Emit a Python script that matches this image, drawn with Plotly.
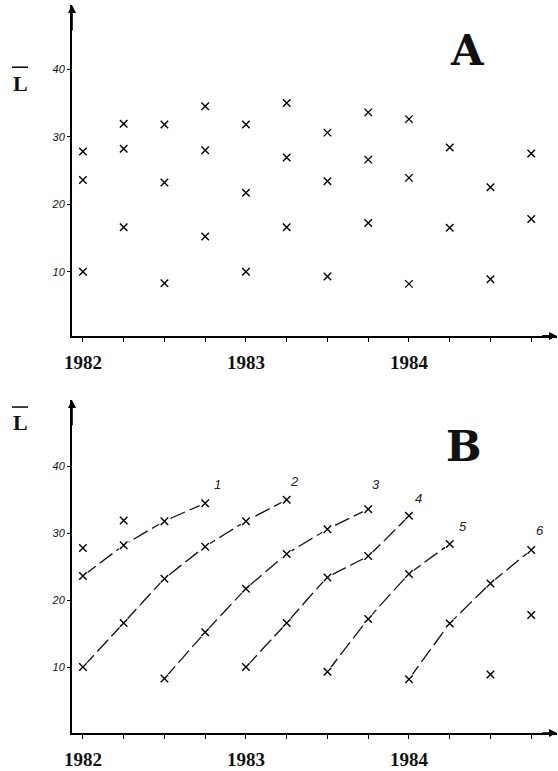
import plotly.graph_objects as go

# ---- data ----
quarters = [1982.0, 1982.25, 1982.5, 1982.75, 1983.0, 1983.25,
            1983.5, 1983.75, 1984.0, 1984.25, 1984.5, 1984.75]
year_ticks = [1982, 1983, 1984]
y_ticks = [10, 20, 30, 40]

c1_t = [1982.0, 1982.25, 1982.5, 1982.75]
c1_L = [23.6, 28.2, 31.8, 34.5]
c2_t = [1982.0, 1982.25, 1982.5, 1982.75, 1983.0, 1983.25]
c2_L = [10.0, 16.6, 23.2, 28.0, 31.8, 35.0]
c3_t = [1982.5, 1982.75, 1983.0, 1983.25, 1983.5, 1983.75]
c3_L = [8.3, 15.2, 21.7, 26.9, 30.6, 33.6]
c4_t = [1983.0, 1983.25, 1983.5, 1983.75, 1984.0]
c4_L = [10.0, 16.6, 23.4, 26.6, 32.6]
c5_t = [1983.5, 1983.75, 1984.0, 1984.25]
c5_L = [9.3, 17.2, 23.9, 28.4]
c6_t = [1984.0, 1984.25, 1984.5, 1984.75]
c6_L = [8.2, 16.5, 22.5, 27.5]
other_t = [1982.0, 1982.25, 1984.5, 1984.75]
other_L = [27.8, 31.9, 8.9, 17.8]

cohort_names = ["1", "2", "3", "4", "5", "6"]
cohorts_t = [c1_t, c2_t, c3_t, c4_t, c5_t, c6_t]
cohorts_L = [c1_L, c2_L, c3_L, c4_L, c5_L, c6_L]

all_t = [t for ts in cohorts_t for t in ts] + other_t
all_L = [v for vs in cohorts_L for v in vs] + other_L

# ---- styling ----
XR = [1981.933, 1984.908]
YR_A = [0.5, 49.5]
YR_B = [0.15, 49.9]
label_shift = [(12, 19), (8, 18), (8, 25), (10, 17), (13, 17), (9, 19)]
PLOT_W = 485.0
PLOT_H = 737.0

mk = dict(symbol="x-thin", size=7.5, color="black", line=dict(width=1.4, color="black"))

fig = go.Figure()

# Panel A: scatter of all observations
fig.add_trace(go.Scatter(x=all_t, y=all_L, mode="markers", marker=mk,
                         xaxis="x", yaxis="y", hoverinfo="skip"))

# Panel B: cohort lines
for ts, vs in zip(cohorts_t, cohorts_L):
    fig.add_trace(go.Scatter(x=ts, y=vs, mode="lines",
                             line=dict(color="#111", width=1.3, dash="16px,5px",
                                       shape="spline", smoothing=0.25),
                             xaxis="x2", yaxis="y2", hoverinfo="skip"))
# white masks giving gaps around markers
fig.add_trace(go.Scatter(x=all_t, y=all_L, mode="markers",
                         marker=dict(symbol="circle", size=12, color="white"),
                         xaxis="x2", yaxis="y2", hoverinfo="skip"))
fig.add_trace(go.Scatter(x=all_t, y=all_L, mode="markers", marker=mk,
                         xaxis="x2", yaxis="y2", hoverinfo="skip"))

tickvals = quarters
ticktext = [str(int(q)) if q in year_ticks else "" for q in quarters]

xcommon = dict(range=XR, showline=True, linecolor="black", linewidth=1.8,
               showgrid=False, zeroline=False, tickvals=tickvals, ticktext=ticktext,
               ticks="outside", ticklen=4, tickwidth=1.3, tickcolor="black",
               ticklabelstandoff=4,
               tickfont=dict(family="Liberation Serif", size=19, color="#111",
                             weight="bold"))
ycommon = dict(showline=True, linecolor="black", linewidth=2, showgrid=False,
               zeroline=False, tickvals=y_ticks, ticks="outside", ticklen=3,
               tickwidth=1, tickcolor="black",
               tickfont=dict(family="Liberation Sans", size=11, color="#111",
                             style="italic"))

fig.update_layout(
    width=558, height=771, margin=dict(l=72, r=1, t=5, b=29),
    paper_bgcolor="white", plot_bgcolor="white", showlegend=False,
    xaxis=dict(domain=[0, 1], anchor="y", **xcommon),
    yaxis=dict(domain=[0.5455, 1], anchor="x", range=YR_A, **ycommon),
    xaxis2=dict(domain=[0, 1], anchor="y2", **xcommon),
    yaxis2=dict(domain=[0, 0.4573], anchor="x2", range=YR_B, **ycommon),
)

ann = []
# axis arrowheads
for xa, ya, yr in [("x", "y", YR_A), ("x2", "y2", YR_B)]:
    ann.append(dict(x=XR[0], y=yr[1], ax=XR[0], ay=yr[1] - 4, xref=xa, yref=ya,
                    axref=xa, ayref=ya, text="", showarrow=True, arrowhead=2,
                    arrowsize=1, arrowwidth=1.6, arrowcolor="black"))
    ann.append(dict(x=XR[1], y=yr[0], ax=XR[1] - 0.1, ay=yr[0], xref=xa, yref=ya,
                    axref=xa, ayref=ya, text="", showarrow=True, arrowhead=2,
                    arrowsize=1, arrowwidth=1.6, arrowcolor="black"))

# panel letters
ann.append(dict(x=1984.36, y=42.8, xref="x", yref="y", text="<b>A</b>", showarrow=False,
                font=dict(family="DejaVu Serif", size=42, color="#111")))
ann.append(dict(x=1984.34, y=42.9, xref="x2", yref="y2", text="<b>B</b>", showarrow=False,
                font=dict(family="DejaVu Serif", size=42, color="#111")))

# L-bar axis titles (pixel positions converted to paper coords)
def py(p):
    return 1 - (p - 5) / PLOT_H

def px(p):
    return (p - 72) / PLOT_W

for cy in (84, 428):
    ann.append(dict(x=px(20), y=py(cy), xref="paper", yref="paper", text="<b>L</b>",
                    showarrow=False, xanchor="center", yanchor="middle",
                    font=dict(family="Liberation Serif", size=22, color="#111")))

# cohort labels in panel B
for name, ts, vs, (dx, dy) in zip(cohort_names, cohorts_t, cohorts_L, label_shift):
    ann.append(dict(x=ts[-1], y=vs[-1], xref="x2", yref="y2", text=name,
                    showarrow=False, xshift=dx, yshift=dy,
                    font=dict(family="Liberation Sans", size=13, color="#222",
                              style="italic")))

shapes = []
for oy in (68, 412):
    shapes.append(dict(type="line", xref="paper", yref="paper",
                       x0=px(12), x1=px(28), y0=py(oy), y1=py(oy),
                       line=dict(color="#111", width=1.6)))

fig.update_layout(annotations=ann, shapes=shapes)
fig.write_html("out.html")
